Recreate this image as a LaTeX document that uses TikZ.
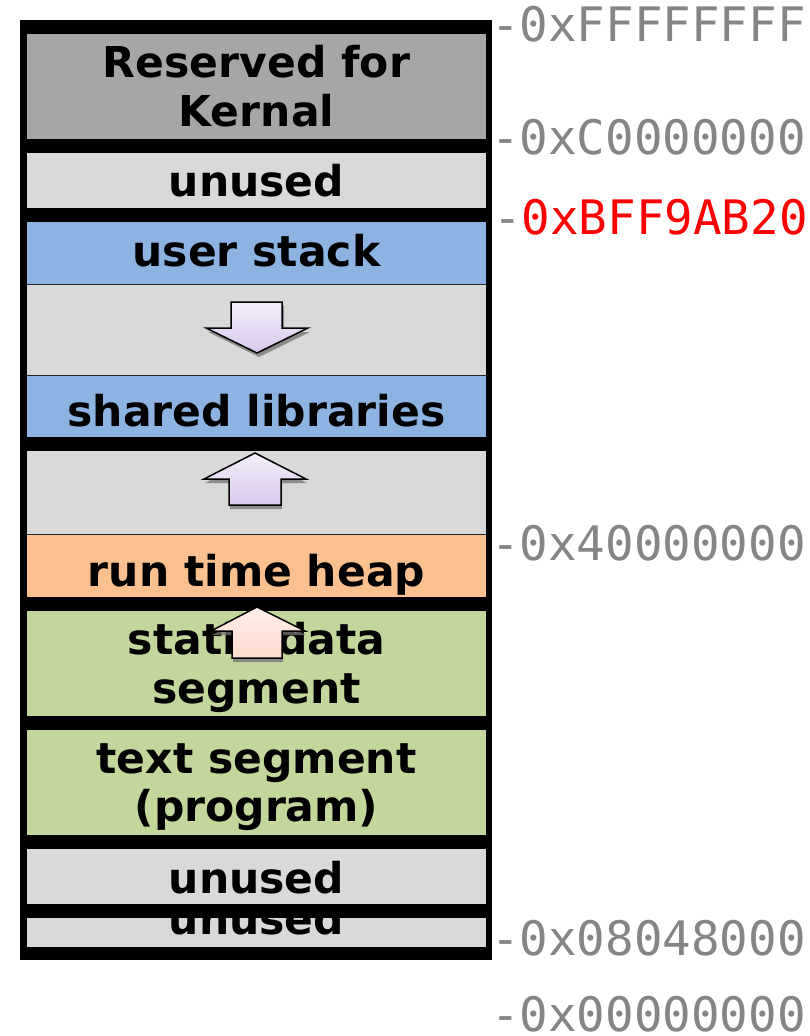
\documentclass[tikz,border=0pt]{standalone}
\usepackage{fontspec}
\setmainfont{DejaVu Sans}
\newfontfamily\addrfont{DejaVu Sans Mono}
\definecolor{kernelgray}{HTML}{A6A6A6}
\definecolor{freegray}{HTML}{D9D9D9}
\definecolor{stackblue}{HTML}{8DB3E2}
\definecolor{heaporange}{HTML}{FAC090}
\definecolor{datagreen}{HTML}{C3D69B}
\definecolor{addrgray}{HTML}{858585}
\definecolor{addrred}{HTML}{FF0000}
\definecolor{lilactop}{HTML}{F3EEFA}
\definecolor{lilacbot}{HTML}{D9C9EC}
\definecolor{peachtop}{HTML}{FFF0EA}
\definecolor{peachbot}{HTML}{FDDACE}
\begin{document}
\begin{tikzpicture}[x=1pt,y=-1pt,
  segtext/.style={font=\fontsize{42.5}{48}\selectfont\bfseries, inner sep=0pt, anchor=base},
  addr/.style={font=\addrfont\fontsize{47.5}{50}\selectfont, text=addrgray, inner sep=0pt,
    text depth=0pt, anchor=base west},
  edge/.style={draw=black!85, line width=1.2pt},
  blockarrow/.style={draw=black, line width=1.5pt, line join=miter},
  lilac/.style={top color=lilactop, bottom color=lilacbot},
  peach/.style={top color=peachtop, bottom color=peachbot},
  arrowshadow/.style={fill=black!55, opacity=0.75}
]
\useasboundingbox (0,0) rectangle (810,1036);

% frame and separators: one black slab with the regions laid over it
\fill[black] (20,20) rectangle (492,960);

\fill[kernelgray] (27,34)  rectangle (486,139);
\fill[freegray]   (27,153) rectangle (486,208);
\fill[stackblue]  (27,222) rectangle (486,284);
\fill[freegray]   (27,285) rectangle (486,375);
\fill[stackblue]  (27,376) rectangle (486,437);
\fill[freegray]   (27,451) rectangle (486,534);
\fill[heaporange] (27,535) rectangle (486,597);
\fill[datagreen]  (27,611) rectangle (486,716);
\fill[datagreen]  (27,730) rectangle (486,835);
\fill[freegray]   (27,849) rectangle (486,904);
\fill[freegray]   (27,918) rectangle (486,947);

% thin borders between adjoining regions
\draw[edge] (27,284.5) -- (486,284.5);
\draw[edge] (27,375.5) -- (486,375.5);
\draw[edge] (27,534.5) -- (486,534.5);

% region labels
\node[segtext] (kern1) at (256.5,77)  {Reserved for};
\node[segtext] (kern2) at (256.5,126) {Kernal};
\node[segtext] (unused1) at (256.5,196) {unused};
\node[segtext] (ustack) at (256.5,266) {user stack};
\node[segtext] (shlib) at (256.5,426) {shared libraries};
\node[segtext] (heap) at (256.5,586) {run time heap};
\node[segtext] (static1) at (256.5,654) {static data};
\node[segtext] (static2) at (256.5,703) {segment};
\node[segtext] (text1) at (256.5,773) {text segment};
\node[segtext] (text2) at (256.5,821) {(program)};
\node[segtext] (unused2) at (256.5,893) {unused};
\begin{scope}
  \clip (27,918) rectangle (486,947);
  \node[segtext] (unused3) at (256.5,934) {unused};
\end{scope}

% growth arrows: stack grows down, mmap area and heap grow up
\fill[arrowshadow, shift={(2,4)}]
  (231,302) -- (282,302) -- (282,328) -- (308,328) -- (257,353) -- (206,328) -- (231,328) -- cycle;
\path[blockarrow, lilac]
  (231,302) -- (282,302) -- (282,328) -- (308,328) -- (257,353) -- (206,328) -- (231,328) -- cycle;

\fill[arrowshadow, shift={(1,4)}]
  (255,453) -- (306,479) -- (281,479) -- (281,505) -- (229,505) -- (229,479) -- (204,479) -- cycle;
\path[blockarrow, lilac]
  (255,453) -- (306,479) -- (281,479) -- (281,505) -- (229,505) -- (229,479) -- (204,479) -- cycle;

\fill[arrowshadow, shift={(1,4)}]
  (257,607) -- (305,631) -- (282,631) -- (282,658) -- (232,658) -- (232,631) -- (211,631) -- cycle;
\path[blockarrow, peach]
  (257,607) -- (305,631) -- (282,631) -- (282,658) -- (232,658) -- (232,631) -- (211,631) -- cycle;

% address marks on the right
\node[addr] (aTop)  at (491,41)   {-0xFFFFFFFF};
\node[addr] (aKern) at (491,154)  {-0xC0000000};
\node[addr] (aSp)   at (493,234)  {-\textcolor{addrred}{0xBFF9AB20}};
\node[addr] (aMmap) at (491,560)  {-0x40000000};
\node[addr] (aText) at (491,955)  {-0x08048000};
\node[addr] (aZero) at (491,1031) {-0x00000000};
\end{tikzpicture}
\end{document}
